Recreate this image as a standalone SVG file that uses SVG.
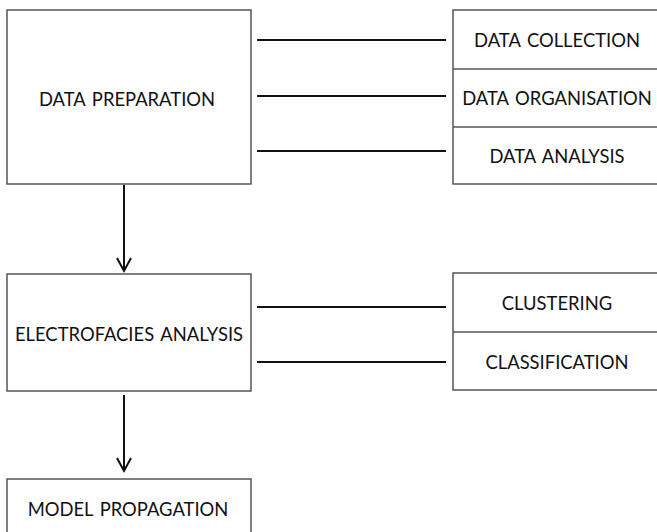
<svg xmlns="http://www.w3.org/2000/svg" width="657" height="532" viewBox="0 0 657 532">
  <style>
    .box { fill: #ffffff; stroke: #555555; stroke-width: 1.5; }
    .link { stroke: #111111; stroke-width: 2; fill: none; }
    .label { font-family: Lato, "Liberation Sans", sans-serif; font-size: 18.4px; fill: #111111; word-spacing: 2px; text-anchor: middle; dominant-baseline: central; }
  </style>
  <rect width="657" height="532" fill="#ffffff"/>

  <g id="connectors">
    <!-- vertical flow arrows with open heads -->
    <line class="link" x1="124" y1="185" x2="124" y2="271"/>
    <path class="link" d="M117,258 L124,271 L131,258"/>
    <line class="link" x1="124" y1="395" x2="124" y2="471"/>
    <path class="link" d="M117,458 L124,471 L131,458"/>
    <!-- links to sub-task tables -->
    <line class="link" x1="257" y1="40" x2="446" y2="40"/>
    <line class="link" x1="257" y1="96" x2="446" y2="96"/>
    <line class="link" x1="257" y1="151" x2="446" y2="151"/>
    <line class="link" x1="257" y1="307" x2="446" y2="307"/>
    <line class="link" x1="257" y1="362" x2="446" y2="362"/>
  </g>

  <g id="data-preparation">
    <rect class="box" x="7" y="10" width="244" height="174"/>
    <text class="label" x="127" y="99">DATA PREPARATION</text>
  </g>

  <g id="data-tasks">
    <rect class="box" x="453" y="10" width="210" height="174"/>
    <line class="box" x1="453" y1="69" x2="663" y2="69"/>
    <line class="box" x1="453" y1="127" x2="663" y2="127"/>
    <text class="label" x="557" y="40">DATA COLLECTION</text>
    <text class="label" x="557" y="98">DATA ORGANISATION</text>
    <text class="label" x="557" y="156">DATA ANALYSIS</text>
  </g>

  <g id="electrofacies-analysis">
    <rect class="box" x="7" y="274" width="244" height="117"/>
    <text class="label" x="129" y="334">ELECTROFACIES ANALYSIS</text>
  </g>

  <g id="analysis-methods">
    <rect class="box" x="453" y="273" width="210" height="117"/>
    <line class="box" x1="453" y1="332" x2="663" y2="332"/>
    <text class="label" x="557" y="303">CLUSTERING</text>
    <text class="label" x="557" y="362">CLASSIFICATION</text>
  </g>

  <g id="model-propagation">
    <rect class="box" x="7" y="479" width="244" height="70"/>
    <text class="label" x="128" y="509">MODEL PROPAGATION</text>
  </g>
</svg>
